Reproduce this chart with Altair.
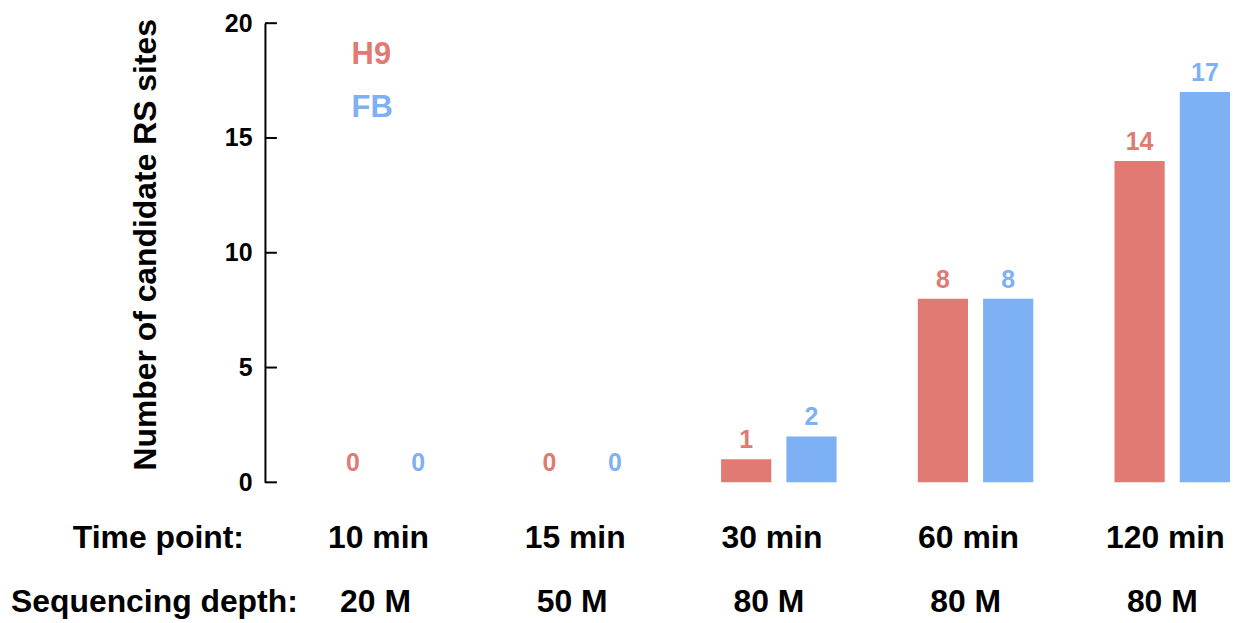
import altair as alt
import pandas as pd

times = ["10 min", "15 min", "30 min", "60 min", "120 min"]
depths = ["20 M", "50 M", "80 M", "80 M", "80 M"]
h9_values = [0, 0, 1, 8, 14]
fb_values = [0, 0, 2, 8, 17]
series = ["H9", "FB"]
colors = ["#E07A72", "#7EB0F4"]
y_ticks = [0, 5, 10, 15, 20]

FONT = "Liberation Sans"

rows = []
for t, d, a, b in zip(times, depths, h9_values, fb_values):
    rows.append({"time": t, "depth": d, "series": "H9", "value": a})
    rows.append({"time": t, "depth": d, "series": "FB", "value": b})
df = pd.DataFrame(rows)
cats = pd.DataFrame({"time": times, "depth": depths})
ticks_df = pd.DataFrame({"value": y_ticks})

xscale = alt.Scale(domain=times, range=[63, 969], paddingInner=0.4127, paddingOuter=0)
xenc = alt.X("time:N", scale=xscale, axis=None, sort=times)
xoff = alt.XOffset("series:N", scale=alt.Scale(domain=series, paddingInner=0.2308, paddingOuter=0), sort=series)
yscale = alt.Scale(domain=[0, 20], nice=False, zero=True)
yaxis = alt.Axis(
    values=y_ticks, grid=False, ticks=False, tickSize=0,
    domainColor="black", domainWidth=2,
    labelFont=FONT, labelFontSize=25, labelFontWeight="bold", labelColor="black",
    labelPadding=13,
    title="Number of candidate RS sites",
    titleFont=FONT, titleFontSize=32, titleFontWeight="bold", titleColor="black",
    titleAngle=270, titleAlign="center", titleBaseline="alphabetic",
    titleX=-110, titleY=222,
)
yenc = alt.Y("value:Q", scale=yscale, axis=yaxis)
colenc = alt.Color("series:N", scale=alt.Scale(domain=series, range=colors), legend=None)

bars = alt.Chart(df).mark_bar().encode(x=xenc, xOffset=xoff, y=yenc, color=colenc)

bar_labels = alt.Chart(df).mark_text(
    font=FONT, fontSize=25, fontWeight="bold", baseline="alphabetic", dy=-11
).encode(x=xenc, xOffset=xoff, y=yenc, color=colenc, text="value:Q")

tick_marks = alt.Chart(ticks_df).mark_tick(
    color="black", orient="horizontal", size=12, thickness=2, opacity=1
).encode(y=yenc, x=alt.value(6))

time_row = alt.Chart(cats).mark_text(
    font=FONT, fontSize=32, fontWeight="bold", color="black", baseline="alphabetic", dx=-7
).encode(x=xenc, y=alt.value(527), text="time:N")

depth_row = alt.Chart(cats).mark_text(
    font=FONT, fontSize=32, fontWeight="bold", color="black", baseline="alphabetic", dx=-10
).encode(x=xenc, y=alt.value(591), text="depth:N")

time_head = alt.Chart(pd.DataFrame({"label": ["Time point:"]})).mark_text(
    font=FONT, fontSize=32, fontWeight="bold", color="black", baseline="alphabetic", align="center"
).encode(x=alt.value(-107), y=alt.value(527), text="label:N")
depth_head = alt.Chart(pd.DataFrame({"label": ["Sequencing depth:"]})).mark_text(
    font=FONT, fontSize=32, fontWeight="bold", color="black", baseline="alphabetic", align="center"
).encode(x=alt.value(-111), y=alt.value(591), text="label:N")

legend_layers = []
for name, col, ypos in zip(series, colors, [32, 85]):
    legend_layers.append(
        alt.Chart(pd.DataFrame({"label": [name]})).mark_text(
            font=FONT, fontSize=31, fontWeight="bold", color=col, baseline="middle", align="left"
        ).encode(x=alt.value(87), y=alt.value(ypos), text="label:N")
    )

chart = alt.layer(
    bars, bar_labels, tick_marks, time_row, depth_row, time_head, depth_head, *legend_layers
).properties(
    width=966, height=461,
    autosize=alt.AutoSizeParams(type="none"),
    padding={"left": 258, "top": 14, "right": 4, "bottom": 140},
    background="white",
).configure_view(stroke=None)

chart.save("out.html", embed_options={"renderer": "svg", "actions": False})
